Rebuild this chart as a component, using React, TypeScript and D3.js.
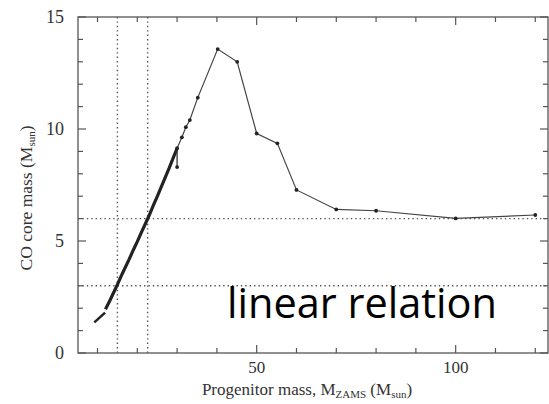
import React from "react";
import * as d3 from "d3";

const lowMass = [9.2, 11.9];
const lowCore = [1.37, 1.8];
const linMass = [12, 13, 14, 15, 16, 17, 18, 19, 20, 21, 22, 23, 24, 25, 26, 27, 28, 29, 30];
const linCore = [1.95, 2.3, 2.68, 3.05, 3.45, 3.83, 4.2, 4.6, 4.97, 5.37, 5.76, 6.15, 6.58, 6.98, 7.4, 7.83, 8.25, 8.7, 9.14];
const dropMass = [30, 30];
const dropCore = [9.14, 8.3];
const highMass = [30, 31.2, 32.2, 33.2, 35.2, 40.2, 45.1, 50, 55.2, 60, 70, 80, 100, 120];
const highCore = [9.14, 9.63, 10.08, 10.4, 11.4, 13.57, 13.0, 9.8, 9.36, 7.28, 6.41, 6.35, 6.01, 6.16];
const vLines = [15, 22.6];
const hLines = [3, 6];
const xTicks = [10, 20, 30, 40, 50, 60, 70, 80, 90, 100, 110, 120];
const xLabels = [50, 100];
const yTicks = d3.range(0, 16);
const yLabels = [0, 5, 10, 15];

export default function App() {
  const W = 549, H = 404;
  const L = 78, T = 17, R = 548, B = 353;
  const x = d3.scaleLinear().domain([5.1, 123.2]).range([L, R]);
  const y = d3.scaleLinear().domain([0, 15]).range([B, T]);
  const line = d3.line<[number, number]>().x(d => x(d[0])).y(d => y(d[1]));
  const zip = (a: number[], b: number[]) => a.map((v, i) => [v, b[i]] as [number, number]);
  const axisColor = "#555";
  const serif = "'Liberation Serif', 'DejaVu Serif', serif";
  return (
    <svg width={W} height={H} style={{ position: "absolute", left: 0, top: 0, background: "#fff" }}>
      <rect x={0} y={0} width={W} height={H} fill="#fff" />
      {vLines.map(v => (
        <line key={"v" + v} x1={x(v)} x2={x(v)} y1={T} y2={B} stroke="#555" strokeWidth={1.4} strokeDasharray="1.4,3" />
      ))}
      {hLines.map(v => (
        <line key={"h" + v} x1={L} x2={R} y1={y(v)} y2={y(v)} stroke="#555" strokeWidth={1.4} strokeDasharray="1.4,3" />
      ))}
      <rect x={L} y={T} width={R - L} height={B - T} fill="none" stroke={axisColor} strokeWidth={1.3} />
      {xTicks.map(t => {
        const len = xLabels.includes(t) ? 8 : 5;
        return (
          <g key={"xt" + t}>
            <line x1={x(t)} x2={x(t)} y1={B} y2={B - len} stroke={axisColor} strokeWidth={1.2} />
            <line x1={x(t)} x2={x(t)} y1={T} y2={T + len} stroke={axisColor} strokeWidth={1.2} />
          </g>
        );
      })}
      {xLabels.map(t => (
        <text key={"xl" + t} x={x(t)} y={B + 20} textAnchor="middle" fontFamily={serif} fontSize={17} fill="#333">{t}</text>
      ))}
      {yTicks.map(t => {
        const len = yLabels.includes(t) ? 8 : 5;
        return (
          <g key={"yt" + t}>
            <line x1={L} x2={L + len} y1={y(t)} y2={y(t)} stroke={axisColor} strokeWidth={1.2} />
            <line x1={R} x2={R - len} y1={y(t)} y2={y(t)} stroke={axisColor} strokeWidth={1.2} />
          </g>
        );
      })}
      {yLabels.map(t => (
        <text key={"yl" + t} x={L - 14} y={y(t) + 6} textAnchor="end" fontFamily={serif} fontSize={18} fill="#333">{t}</text>
      ))}
      <text x={307} y={395} textAnchor="middle" fontFamily={serif} fontSize={17} fill="#333">
        Progenitor mass, M<tspan fontSize={11} dy={3}>ZAMS</tspan><tspan dy={-3}> (M</tspan><tspan fontSize={11} dy={3}>sun</tspan><tspan dy={-3}>)</tspan>
      </text>
      <text transform={`translate(32,198) rotate(-90)`} textAnchor="middle" fontFamily={serif} fontSize={17.5} fill="#333">
        CO core mass (M<tspan fontSize={11} dy={3}>sun</tspan><tspan dy={-3}>)</tspan>
      </text>
      <path d={line(zip(lowMass, lowCore)) || ""} fill="none" stroke="#222" strokeWidth={2.5} />
      <path d={line(zip(linMass, linCore)) || ""} fill="none" stroke="#222" strokeWidth={3.2} />
      <path d={line(zip(dropMass, dropCore)) || ""} fill="none" stroke="#333" strokeWidth={1.3} />
      <path d={line(zip(highMass, highCore)) || ""} fill="none" stroke="#444" strokeWidth={1.2} />
      {zip(highMass, highCore).concat([[dropMass[1], dropCore[1]]]).map((p, i) => (
        <circle key={"p" + i} cx={x(p[0])} cy={y(p[1])} r={1.9} fill="#222" />
      ))}
      <text x={227} y={318} fontFamily="'Open Sans', 'Noto Sans', sans-serif" fontSize={42} textLength={270} lengthAdjust="spacingAndGlyphs" fill="#000">linear relation</text>
    </svg>
  );
}
